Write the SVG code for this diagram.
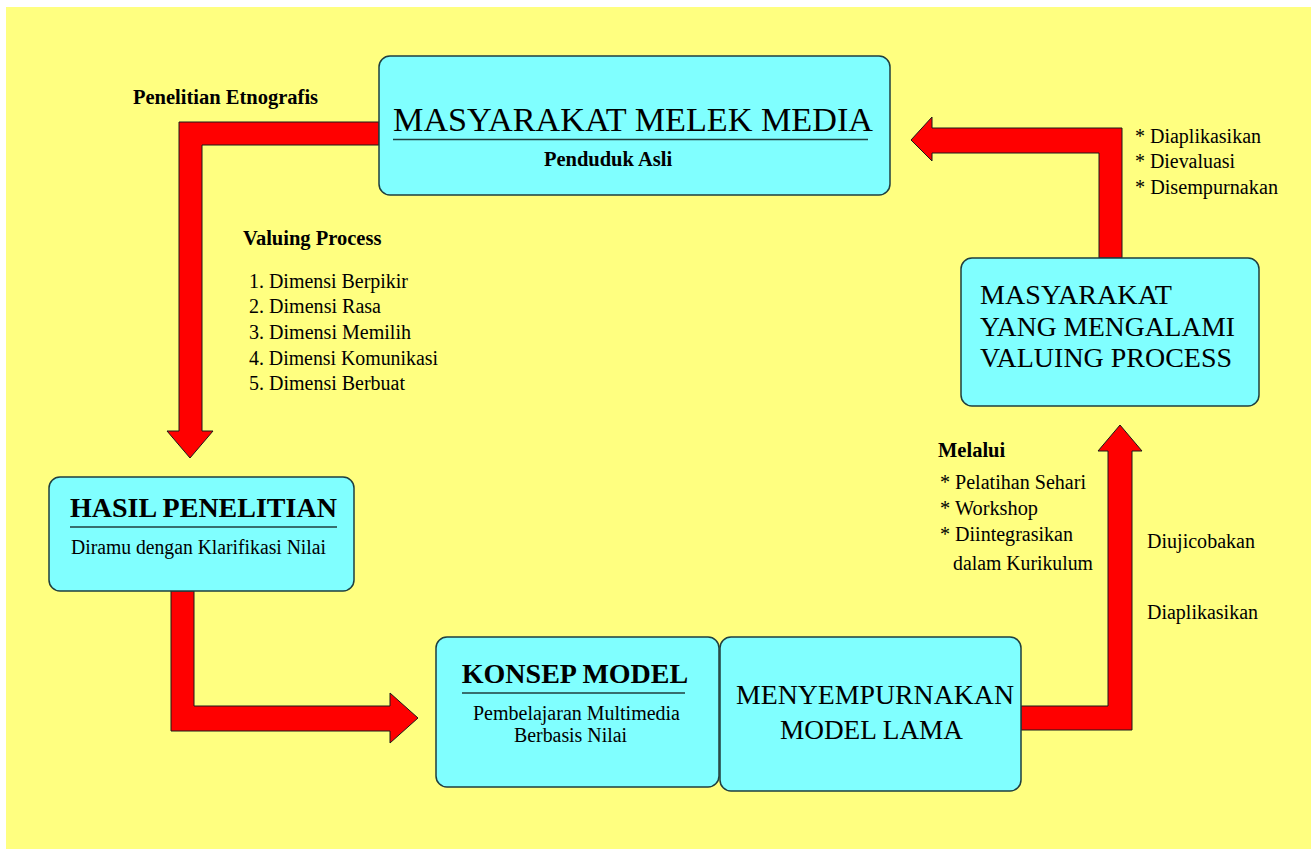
<svg xmlns="http://www.w3.org/2000/svg" width="1311" height="855" viewBox="0 0 1311 855">
<style>
.bg{fill:#FFFF80}
.box{fill:#80FFFF;stroke:#1f3f3f;stroke-width:1.5}
.arrow{fill:#FF0000;stroke:#1a1a1a;stroke-width:1}
.ul{stroke:#1f3f3f;stroke-width:1.5}
text{fill:#000;font-family:"Liberation Serif","Times New Roman",serif}
.r{font-weight:normal}
.b{font-weight:bold}
.t20{font-size:20px}
.lbl{font-size:20.5px}
</style>
<rect x="0" y="0" width="1311" height="855" fill="#FFFFFF"/>
<rect class="bg" x="6" y="7" width="1305" height="842"/>
<g id="connectors">
<polygon class="arrow" points="379,122 179,122 179,431 167,431 190,458 213,431 202,431 202,145 379,145"/>
<polygon class="arrow" points="171,591 171,731 390,731 390,743 418,718 390,693 390,706 194,706 194,591"/>
<polygon class="arrow" points="1021,706 1108,706 1108,451 1098,451 1120,425 1142,451 1132,451 1132,730 1021,730"/>
<polygon class="arrow" points="1099,258 1099,153 932,153 932,161 911,140 932,117 932,128 1122,128 1122,258"/>
</g>
<g id="labels">
<text class="b lbl" x="133" y="104">Penelitian Etnografis</text>
<text class="b lbl" x="243" y="245">Valuing Process</text>
<text class="r t20" x="249" y="288" textLength="159" lengthAdjust="spacingAndGlyphs">1. Dimensi Berpikir</text>
<text class="r t20" x="249" y="313" textLength="132" lengthAdjust="spacingAndGlyphs">2. Dimensi Rasa</text>
<text class="r t20" x="249" y="339" textLength="162" lengthAdjust="spacingAndGlyphs">3. Dimensi Memilih</text>
<text class="r t20" x="249" y="365" textLength="189" lengthAdjust="spacingAndGlyphs">4. Dimensi Komunikasi</text>
<text class="r t20" x="249" y="390" textLength="156" lengthAdjust="spacingAndGlyphs">5. Dimensi Berbuat</text>
<text class="r t20" x="1135" y="143" textLength="126" lengthAdjust="spacingAndGlyphs">* Diaplikasikan</text>
<text class="r t20" x="1135" y="168" textLength="100" lengthAdjust="spacingAndGlyphs">* Dievaluasi</text>
<text class="r t20" x="1135" y="194" textLength="143" lengthAdjust="spacingAndGlyphs">* Disempurnakan</text>
<text class="b lbl" x="938" y="457">Melalui</text>
<text class="r t20" x="940" y="489" textLength="146" lengthAdjust="spacingAndGlyphs">* Pelatihan Sehari</text>
<text class="r t20" x="940" y="515" textLength="98" lengthAdjust="spacingAndGlyphs">* Workshop</text>
<text class="r t20" x="940" y="541" textLength="133" lengthAdjust="spacingAndGlyphs">* Diintegrasikan</text>
<text class="r t20" x="953" y="570" textLength="140" lengthAdjust="spacingAndGlyphs">dalam Kurikulum</text>
<text class="r t20" x="1147" y="548" textLength="108" lengthAdjust="spacingAndGlyphs">Diujicobakan</text>
<text class="r t20" x="1147" y="619" textLength="111" lengthAdjust="spacingAndGlyphs">Diaplikasikan</text>
</g>
<g id="node-masyarakat-melek-media">
<rect class="box" x="379" y="56" width="511" height="139" rx="11"/>
<text class="r" x="393" y="131" font-size="34" textLength="480" lengthAdjust="spacingAndGlyphs">MASYARAKAT MELEK MEDIA</text>
<line class="ul" x1="393" y1="139.5" x2="868" y2="139.5"/>
<text class="b lbl" x="608" y="166" text-anchor="middle">Penduduk Asli</text>
</g>
<g id="node-hasil-penelitian">
<rect class="box" x="49" y="477" width="305" height="114" rx="11"/>
<text class="b" x="70" y="517" font-size="28">HASIL PENELITIAN</text>
<line class="ul" x1="70" y1="527" x2="337" y2="527"/>
<text class="r t20" x="71" y="554" textLength="255" lengthAdjust="spacingAndGlyphs">Diramu dengan Klarifikasi Nilai</text>
</g>
<g id="node-konsep-model">
<rect class="box" x="436" y="637" width="283" height="150" rx="11"/>
<text class="b" x="575" y="683" font-size="28" text-anchor="middle">KONSEP MODEL</text>
<line class="ul" x1="462" y1="693" x2="685" y2="693"/>
<text class="r t20" x="473" y="720" textLength="207" lengthAdjust="spacingAndGlyphs">Pembelajaran Multimedia</text>
<text class="r t20" x="514" y="742" textLength="113" lengthAdjust="spacingAndGlyphs">Berbasis Nilai</text>
</g>
<g id="node-menyempurnakan">
<rect class="box" x="720" y="637" width="301" height="154" rx="11"/>
<text class="r" x="736" y="704" font-size="28" textLength="278" lengthAdjust="spacingAndGlyphs">MENYEMPURNAKAN</text>
<text class="r" x="780" y="739" font-size="28" textLength="183" lengthAdjust="spacingAndGlyphs">MODEL LAMA</text>
</g>
<g id="node-masyarakat-valuing">
<rect class="box" x="961" y="258" width="298" height="148" rx="11"/>
<text class="r" x="980" y="304" font-size="27.5" textLength="192" lengthAdjust="spacingAndGlyphs">MASYARAKAT</text>
<text class="r" x="980" y="336" font-size="27.5" textLength="255" lengthAdjust="spacingAndGlyphs">YANG MENGALAMI</text>
<text class="r" x="980" y="367" font-size="27.5" textLength="252" lengthAdjust="spacingAndGlyphs">VALUING PROCESS</text>
</g>
</svg>
